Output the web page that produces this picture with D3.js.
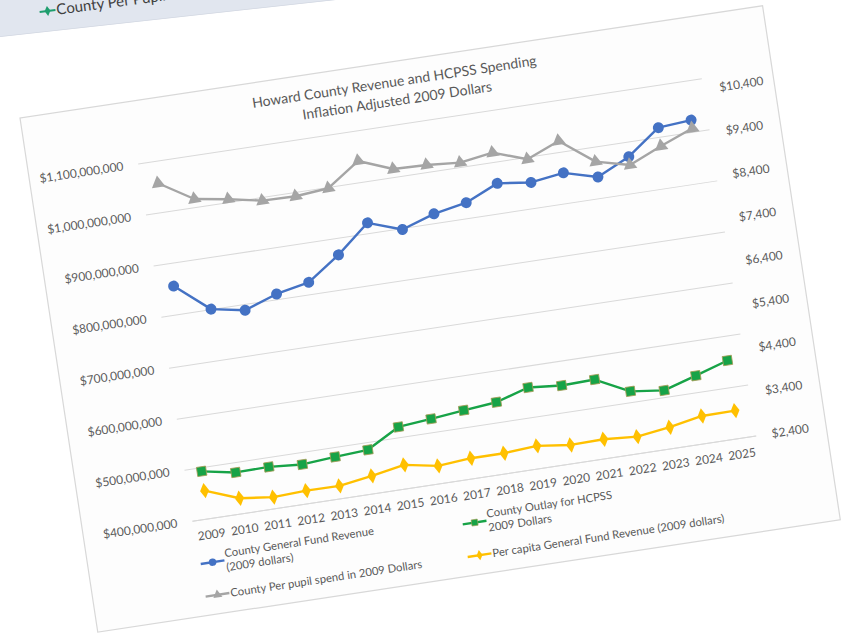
<!DOCTYPE html>
<html><head><meta charset="utf-8">
<script src="https://cdn.jsdelivr.net/npm/d3@7"></script>
<style>
html,body{margin:0;padding:0;background:#fff;overflow:hidden;}
svg{display:block;}
text{font-family:Lato,"Open Sans",sans-serif;}
</style></head><body>
<svg id="c" width="846" height="634"></svg>
<script>
// ---- data ----
const years = ["2009","2010","2011","2012","2013","2014","2015","2016","2017","2018","2019","2020","2021","2022","2023","2024","2025"];
const revenue   = [855,800,788,810,823,867,920,897,918,930,958,950,959,941,971,1018,1023].map(v=>v*1e6);
const outlay    = [492,480,481,476,481,485,520,526,533,539,558,552,554,521,513,532,552].map(v=>v*1e6);
const perPupil  = [10147,9668,9547,9398,9384,9453,9967,9665,9643,9581,9695,9428,9734,9140,8948,9270,9563];
const perCapita = [3046,2754,2663,2699,2692,2807,2946,2807,2868,2868,2921,2827,2843,2788,2889,3033,3040];
const leftTicks  = [400e6,500e6,600e6,700e6,800e6,900e6,1000e6,1100e6];
const rightTicks = [2400,3400,4400,5400,6400,7400,8400,9400,10400];
const titleLines = ["Howard County Revenue and HCPSS Spending","Inflation Adjusted 2009 Dollars"];
const legendRevenue  = ["County General Fund Revenue","(2009 dollars)"];
const legendOutlay   = ["County Outlay for HCPSS","2009 Dollars"];
const legendPupil    = ["County Per pupil spend in 2009 Dollars"];
const legendCapita   = ["Per capita General Fund Revenue (2009 dollars)"];
const behindCardText = "County Per Pupil";

const svg = d3.select("#c");
const defs = svg.append("defs");

// ---- card behind (top-left) ----
defs.append("clipPath").attr("id","bk").append("polygon").attr("points","0,0 336,0 0,37");
const bk = svg.append("g").attr("clip-path","url(#bk)");
bk.append("polygon").attr("points","0,0 336,0 0,37").attr("fill","#e1e6ef");
bk.append("line").attr("x1",0).attr("y1",37).attr("x2",336).attr("y2",0).attr("stroke","#d3d8e2").attr("stroke-width",1.5);
const bt = bk.append("g").attr("transform","translate(40,15) rotate(-7.5)");
bt.append("line").attr("x1",0).attr("x2",16).attr("y1",-3).attr("y2",-3).attr("stroke","#1f9e6e").attr("stroke-width",2);
bt.append("path").attr("d",d3.symbol(d3.symbolDiamond,30)()).attr("transform","translate(8,-3)").attr("fill","#1f9e6e");
bt.append("text").attr("x",17).attr("y",2).attr("font-size",15).attr("fill","#404040").text(behindCardText);

// ---- main card ----
const CW=751, CH=520;
const g = svg.append("g").attr("transform","translate(20,118) rotate(-8.6)");
g.append("rect").attr("width",CW).attr("height",CH).attr("fill","#fdfdfd").attr("stroke","#d8d8d8").attr("stroke-width",1.2);

const x0=110, x1=680, yTop=62.7, yBot=424;
const x  = d3.scalePoint().domain(years).range([x0,x1]).padding(0.5);
const yL = d3.scaleLinear().domain([400e6,1100e6]).range([yBot,yTop]);
const yR = d3.scaleLinear().domain([2400,10400]).range([424.3,74.1]);

const txt = "#595959";

// title
g.append("text").attr("x",CW/2).attr("text-anchor","middle").attr("font-size",14).attr("fill",txt)
  .selectAll("tspan").data(titleLines).join("tspan").attr("x",CW/2).attr("y",(d,i)=>25+i*19).text(d=>d);

// gridlines
const grid = g.append("g").attr("transform",`translate(${x0},0)`)
  .call(d3.axisRight(yL).tickValues(leftTicks).tickSize(x1-x0).tickFormat(""));
grid.select(".domain").remove();
grid.selectAll("line").attr("stroke","#d9d9d9");

// left axis
const la = g.append("g").attr("transform","translate(95,0)")
  .call(d3.axisLeft(yL).tickValues(leftTicks).tickSize(0).tickPadding(0).tickFormat(d=>"$"+d3.format(",")(d)));
la.select(".domain").remove();
la.selectAll("text").attr("font-size",12).attr("fill",txt).attr("font-family","Lato");

// right axis
const ra = g.append("g").attr("transform","translate(696,0)")
  .call(d3.axisRight(yR).tickValues(rightTicks).tickSize(0).tickPadding(0).tickFormat(d=>"$"+d3.format(",")(d)));
ra.select(".domain").remove();
ra.selectAll("text").attr("font-size",12).attr("fill",txt).attr("font-family","Lato");

// x axis
const xa = g.append("g").attr("transform",`translate(0,${yBot})`)
  .call(d3.axisBottom(x).tickSize(0).tickSizeOuter(0).tickPadding(12));
xa.select(".domain").attr("stroke","#d9d9d9");
xa.selectAll("text").attr("font-size",12).attr("fill",txt).attr("font-family","Lato");

// series
const series = [
  {vals:revenue,  y:yL, color:"#4472c4", sym:d3.symbolCircle,   size:95, stroke:"none"},
  {vals:perPupil, y:yR, color:"#a5a5a5", sym:d3.symbolTriangle, size:80, stroke:"none"},
  {vals:outlay,   y:yL, color:"#17a347", sym:d3.symbolSquare,   size:85, stroke:"#a39c55"},
  {vals:perCapita,y:yR, color:"#ffc000", sym:d3.symbolDiamond,  size:70, stroke:"none"}
];
series.forEach(s=>{
  const line = d3.line().x((d,i)=>x(years[i])).y(d=>s.y(d));
  g.append("path").datum(s.vals).attr("d",line).attr("fill","none").attr("stroke",s.color).attr("stroke-width",2.4).attr("stroke-linejoin","round");
  g.append("g").selectAll("path").data(s.vals).join("path")
    .attr("d",d3.symbol(s.sym,s.size)())
    .attr("transform",(d,i)=>`translate(${x(years[i])},${s.y(d)})`)
    .attr("fill",s.color).attr("stroke",s.stroke).attr("stroke-width",0.8);
});

// legend
const legend = [
  {lines:legendRevenue, s:series[0], cx:124, cy:468},
  {lines:legendOutlay,  s:series[2], cx:389, cy:468},
  {lines:legendPupil,   s:series[1], cx:124, cy:501},
  {lines:legendCapita,  s:series[3], cx:389, cy:501}
];
legend.forEach(l=>{
  const lg = g.append("g").attr("transform",`translate(${l.cx},${l.cy})`);
  lg.append("line").attr("x1",-12).attr("x2",12).attr("stroke",l.s.color).attr("stroke-width",2.4);
  lg.append("path").attr("d",d3.symbol(l.s.sym,l.s.size*0.45)()).attr("fill",l.s.color).attr("stroke",l.s.stroke).attr("stroke-width",0.6);
  const n=l.lines.length;
  lg.append("text").attr("font-size",11.3).attr("fill",txt)
    .selectAll("tspan").data(l.lines).join("tspan")
    .attr("x",13).attr("y",(d,i)=>4+(i-(n-1)/2)*14).text(d=>d);
});
</script>
</body></html>
